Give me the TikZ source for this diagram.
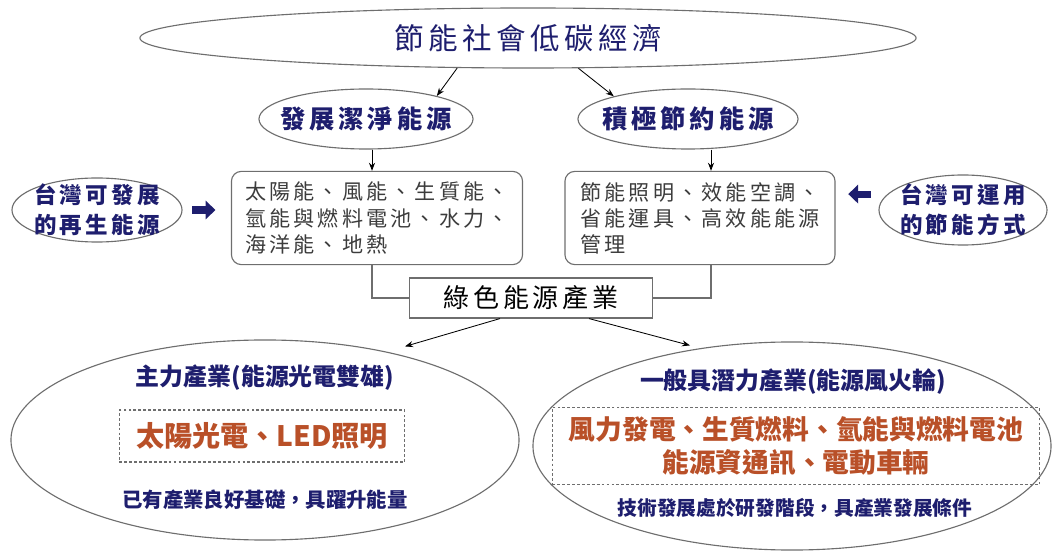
\documentclass[tikz,border=0pt]{standalone}
\usepackage{fontspec}
\setmainfont{Noto Sans CJK TC}
\newfontfamily\spacedfont[LetterSpace=15]{Noto Sans CJK TC}
\usetikzlibrary{shapes.geometric, positioning, arrows.meta, calc}
\definecolor{navy}{RGB}{30,30,110}
\definecolor{rust}{RGB}{185,80,40}
\definecolor{greytext}{RGB}{60,60,60}
\definecolor{rim}{RGB}{110,110,110}

\begin{document}
\begin{tikzpicture}[
        x=0.025cm, y=-0.025cm,
        >=Stealth,
        every node/.style={inner sep=0pt},
        oval/.style={ellipse, draw=rim, line width=0.8pt, fill=white},
        ovaltext/.style={text=navy, align=center},
        listbox/.style={draw=rim, rounded corners=7pt, line width=0.8pt, align=left,
            text=greytext, font=\spacedfont\fontsize{15}{18.5}\selectfont},
        dashbox/.style={draw=rim, dash pattern=on 2pt off 1.5pt, line width=0.8pt, text=rust, align=center},
        link/.style={->, line width=0.6pt},
        bigarrow/.style={-{Triangle[length=7pt, width=13pt]}, line width=5pt, navy}
    ]
        \useasboundingbox (0,0) rectangle (1059,556);

        % Top level
        \node[oval, minimum width=19.4cm, minimum height=1.5cm,
            label={[ovaltext, font=\spacedfont\fontsize{21}{25}\selectfont]center:節能社會低碳經濟}]
            (society) at (528,38) {};
        \node[oval, minimum width=5.35cm, minimum height=1.5cm,
            label={[ovaltext, font=\spacedfont\bfseries\fontsize{18}{22}\selectfont]center:發展潔淨能源}]
            (clean) at (366,119) {};
        \node[oval, minimum width=5.5cm, minimum height=1.5cm,
            label={[ovaltext, font=\spacedfont\bfseries\fontsize{18}{22}\selectfont]center:積極節約能源}]
            (saving) at (688,119) {};

        \draw[link] (society.203) -- (clean.18);
        \draw[link] (society.329) -- (saving.163);

        % Lists
        \node[listbox, minimum width=7.275cm, minimum height=2.33cm] (renew) at (377,218)
            {太陽能、風能、生質能、\\氫能與燃料電池、水力、\\海洋能、地熱};
        \node[listbox, minimum width=6.75cm, minimum height=2.33cm] (methods) at (700,218)
            {節能照明、效能空調、\\省能運具、高效能能源\\管理};

        \coordinate (cleandrop) at ($(clean.south)+(6,0)$);
        \coordinate (savedrop) at ($(saving.south)+(23,0)$);
        \draw[link] (cleandrop) -- (cleandrop |- renew.north);
        \draw[link] (savedrop) -- (savedrop |- methods.north);

        % Taiwan side notes
        \node[oval, minimum width=4.25cm, minimum height=1.6cm,
            label={[ovaltext, font=\spacedfont\bfseries\fontsize{16}{21}\selectfont]center:台灣可發展\\的再生能源}]
            (twrenew) at (97,210) {};
        \node[oval, minimum width=4.2cm, minimum height=1.75cm,
            label={[ovaltext, font=\spacedfont\bfseries\fontsize{16}{21}\selectfont]center:台灣可運用\\的節能方式}]
            (twsave) at (963,210) {};
        \draw[bigarrow, shorten <=7pt, shorten >=11pt] (twrenew) -- (twrenew -| renew.west);
        \draw[bigarrow, shorten <=5.5pt, shorten >=9pt] (twsave.west |- methods.170) -- (methods.east |- methods.170);

        % Green industry
        \node[draw=rim, fill=white, line width=0.8pt, minimum width=6.075cm, minimum height=1.0cm,
            font=\spacedfont\fontsize{18.5}{22}\selectfont] (green) at (531,298) {綠色能源產業};
        \draw[line width=0.8pt, rim] (cleandrop |- renew.south) |- (green.west);
        \draw[line width=0.8pt, rim] (savedrop |- methods.south) |- (green.east);

        % Two industry groups
        \node[oval, minimum width=12.7cm, minimum height=5.0cm] (core) at (265,440) {};
        \node[oval, minimum width=12.95cm, minimum height=5.2cm] (potential) at (792,446) {};

        \coordinate (coretip) at ($(core.north)+(140,7)$);
        \coordinate (pottip) at ($(potential.north)+(-102,4)$);
        \draw[link] ($(green.south)+(-31,0)$) -- (coretip);
        \draw[link] ($(green.south)+(58,0)$) -- (pottip);

        \node[text=navy, font=\bfseries\fontsize{17}{20}\selectfont] (coretitle) at (265,378)
            {主力產業(能源光電雙雄)};
        \node[dashbox, minimum width=7.125cm, minimum height=1.3cm,
            font=\bfseries\fontsize{20}{24}\selectfont] (coreitems) at (262,436)
            {太陽光電、LED照明};
        \node[text=navy, font=\bfseries\fontsize{14.5}{18}\selectfont] (corenote) at (265,500)
            {已有產業良好基礎，具躍升能量};

        \node[text=navy, font=\bfseries\fontsize{17}{20}\selectfont] (pottitle) at (793,382)
            {一般具潛力產業(能源風火輪)};
        \node[dashbox, minimum width=12.175cm, minimum height=1.925cm,
            font=\bfseries\fontsize{19}{23.5}\selectfont] (potitems) at (796,446)
            {風力發電、生質燃料、氫能與燃料電池\\能源資通訊、電動車輛};
        \node[text=navy, font=\bfseries\fontsize{14}{18}\selectfont] (potnote) at (795,508)
            {技術發展處於研發階段，具產業發展條件};
\end{tikzpicture}
\end{document}
